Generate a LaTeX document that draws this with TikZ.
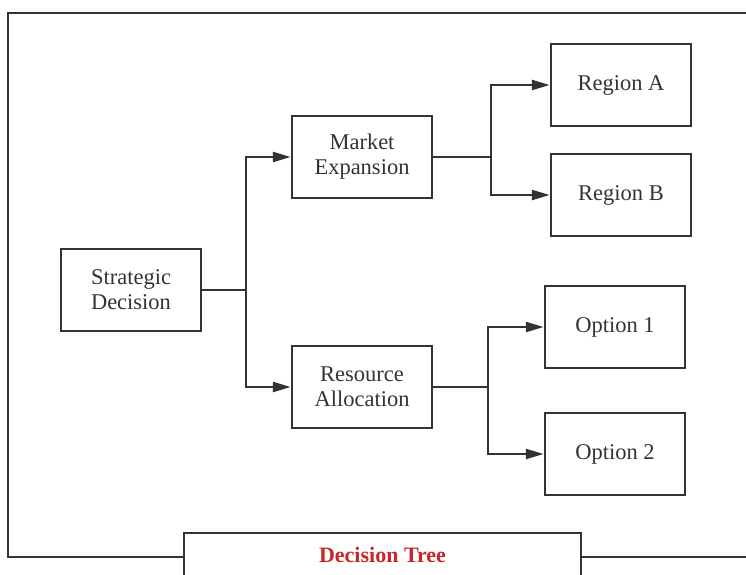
\documentclass[tikz,border=0pt]{standalone}
\usepackage{fontspec}
\setmainfont{Liberation Serif}
\usepackage{xcolor}
\usetikzlibrary{arrows.meta}
\definecolor{linegray}{HTML}{333333}
\definecolor{titlered}{HTML}{C8262B}

\begin{document}
\begin{tikzpicture}[x=1pt,y=-1pt]
\tikzset{box/.style={draw=linegray,line width=2.5pt,minimum width=140pt,minimum height=82pt,
  inner sep=0pt,align=center,font=\fontsize{22.5}{25}\selectfont,text=black!80},
  conn/.style={draw=linegray,line width=2.5pt},
  arr/.style={conn,-{Triangle[length=18pt,width=10pt]}}}
\useasboundingbox (0,0) rectangle (746,574);
\clip (0,0) rectangle (746,574);
% outer frame
\draw [linegray,line width=2.5pt] (8,13) rectangle (770,557);
% nodes
\node [box] (strat) at (131,290) {Strategic\\Decision};
\node [box] (market) at (362,157) {Market\\Expansion};
\node [box] (resource) at (362,387) {Resource\\Allocation};
\node [box] (regA) at (621,85) {Region A};
\node [box] (regB) at (621,195) {Region B};
\node [box] (opt1) at (615,327) {Option 1};
\node [box] (opt2) at (615,454) {Option 2};
% branch points
\coordinate (s1) at (246,290);
\coordinate (m1) at (491,157);
\coordinate (r1) at (488,387);
% connectors
\draw [conn] (strat.east) -- (s1);
\draw [arr] (s1) |- (market.west);
\draw [arr] (s1) |- (resource.west);
\draw [conn] (market.east) -- (m1);
\draw [arr] (m1) |- (regA.west);
\draw [arr] (m1) |- (regB.west);
\draw [conn] (resource.east) -- (r1);
\draw [arr] (r1) |- (opt1.west);
\draw [arr] (r1) |- (opt2.west);
% title
\draw [linegray,line width=2.5pt,fill=white] (184,600) rectangle (581,533);
\node [font=\fontsize{22}{25}\selectfont\bfseries,text=titlered] (title) at (382.5,555) {Decision Tree};
\end{tikzpicture}
\end{document}
